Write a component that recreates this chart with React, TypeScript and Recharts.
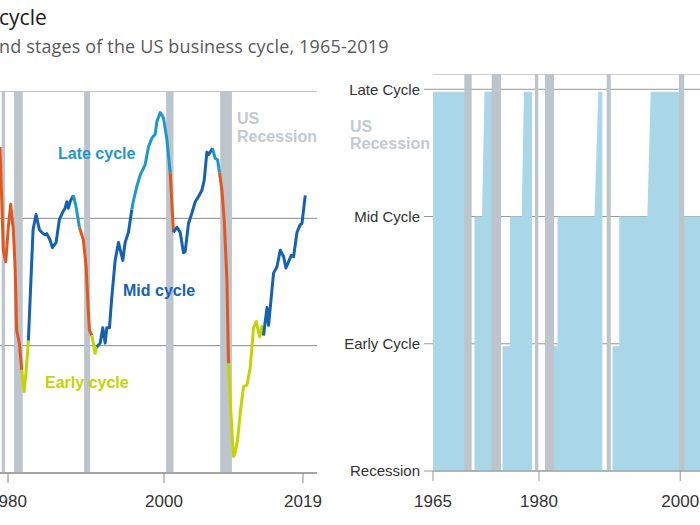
import { LineChart, Line, AreaChart, Area, XAxis, YAxis, CartesianGrid, ReferenceArea } from 'recharts'

// left panel: indicator line, coloured by business-cycle phase
const lineYears = [
  1979.76, 1980.18, 1980.49, 1980.82, 1981.12, 1981.46, 1981.68, 1981.89, 1982.23, 1982.53,
  1982.83, 1983.08, 1983.38, 1983.98, 1984.36, 1984.79, 1985.09, 1985.51, 1985.73, 1986.15,
  1986.45, 1986.92, 1987.34, 1987.78, 1988.07, 1988.29, 1988.49, 1988.71, 1989.13, 1989.48,
  1989.9, 1990.41, 1990.76, 1991.05, 1991.18, 1991.49, 1991.91, 1992.13, 1992.55, 1992.89,
  1993.19, 1993.4, 1993.74, 1994.04, 1994.47, 1994.89, 1995.45, 1995.74, 1996.17, 1996.6,
  1996.81, 1997.24, 1997.66, 1998.3, 1998.72, 1999.16, 1999.58, 1999.8, 2000.22, 2000.64,
  2001.08, 2001.5, 2001.92, 2002.36, 2002.78, 2003.2, 2003.42, 2003.84, 2004.27, 2004.7,
  2005.12, 2005.55, 2005.85, 2006.19, 2006.4, 2006.61, 2006.91, 2007.25, 2007.55, 2007.8,
  2008.11, 2008.4, 2008.75, 2008.95, 2009.26, 2009.59, 2009.81, 2010.11, 2010.45, 2010.87,
  2011.31, 2011.73, 2012.15, 2012.5, 2012.92, 2013.23, 2013.43, 2013.87, 2014.07, 2014.38,
  2014.71, 2015.14, 2015.57, 2015.99, 2016.29, 2016.63, 2016.97, 2017.27, 2017.7, 2018.12,
  2018.34, 2018.76,
]
const lineValues = [
  2.56, 1.75, 1.66, 1.93, 2.11, 1.91, 1.62, 1.12, 1.02, 0.81,
  0.64, 0.79, 1.04, 1.91, 2.03, 1.91, 1.89, 1.87, 1.88, 1.83,
  1.77, 1.81, 1.99, 2.05, 2.08, 2.13, 2.08, 2.13, 2.18, 2.09,
  1.93, 1.83, 1.62, 1.26, 1.12, 1.08, 0.94, 0.99, 1.02, 1.14,
  1.02, 1.14, 1.14, 1.38, 1.67, 1.81, 1.67, 1.81, 1.89, 2.07,
  2.14, 2.25, 2.34, 2.42, 2.56, 2.63, 2.66, 2.76, 2.83, 2.79,
  2.62, 2.36, 1.89, 1.93, 1.89, 1.73, 1.74, 1.96, 2.04, 2.13,
  2.17, 2.22, 2.3, 2.52, 2.5, 2.52, 2.55, 2.47, 2.46, 2.36,
  2.22, 1.99, 1.52, 0.86, 0.47, 0.13, 0.16, 0.26, 0.47, 0.68,
  0.69, 0.83, 1.14, 1.19, 1.07, 1.15, 1.08, 1.3, 1.16, 1.36,
  1.57, 1.62, 1.75, 1.7, 1.61, 1.66, 1.71, 1.7, 1.89, 1.95,
  1.96, 2.18,
]
// phase of the segment that starts at each point: R recession, E early, M mid, L late
const linePhases = (
  'RRRRRRRRRE' + 'EEMMMMMMMM' + 'MMMMMMMMLL' + 'RRRRREEMMM' + 'MMMMMMMMML' +
  'LLLLLLLLLL' + 'LRMMMMMMMM' + 'MMMMMMLLLR' + 'RRREEEEEEE' + 'EEEEEEMMMM' +
  'MMMMMMMMMM' + 'MM'
).split('')

const leftRecessions = [
  [1979.97, 1980.4], [1981.55, 1982.66], [1990.5, 1991.27], [2000.98, 2001.92], [2007.89, 2009.39],
]
const leftTickYears = [1980.78, 2000.71, 2018.47]
const leftTickLabels = ['1980', '2000', '2019']

// right panel: stage of the cycle
const stageLabels = ['Recession', 'Early Cycle', 'Mid Cycle', 'Late Cycle']
const stageYears = [
  1965.0, 1970.17, 1970.17, 1970.87, 1970.87, 1971.94, 1972.29, 1973.85, 1973.85, 1974.84,
  1974.84, 1975.9, 1975.9, 1977.56, 1977.88, 1979.01, 1979.01, 1982.06, 1982.06, 1982.62,
  1982.62, 1987.86, 1988.4, 1988.97, 1988.97, 1990.41, 1990.41, 1991.37, 1991.37, 1995.34,
  1995.82, 2000.2, 2000.2, 2003.1,
]
const stageValues = [
  2.98, 2.98, 0, 0, 2.0, 2.0, 2.98, 2.98, 0, 0,
  0.98, 0.98, 2.0, 2.0, 2.98, 2.98, 0, 0, 0.98, 0.98,
  2.0, 2.0, 2.98, 2.98, 0, 0, 0.98, 0.98, 2.0, 2.0,
  2.98, 2.98, 2.0, 2.0,
]
const rightRecessions = [
  [1969.43, 1970.48], [1973.31, 1974.63], [1979.44, 1979.91], [1980.85, 1982.13], [1989.59, 1990.16], [1999.82, 2000.57],
]
const rightTickYears = [1965, 1980, 2000]

const phaseColors: Record<string, string> = { R: '#e2571e', E: '#c3d400', M: '#1562b0', L: '#1d98cb' }
const phases = Object.keys(phaseColors)

const lineData = lineYears.map((year, i) => {
  const row: Record<string, number | null> = { year }
  for (const p of phases) {
    const on = linePhases[i] === p || (i > 0 && linePhases[i - 1] === p)
    row[p] = on ? lineValues[i] : null
  }
  return row
})

const stageData = stageYears.map((year, i) => ({ year, stage: stageValues[i] }))

const sans = "'Liberation Sans', Arial, sans-serif"
const band = '#bdc4cb'

export default function App() {
  return (
    <div style={{ position: 'fixed', left: 0, top: 0, width: 700, height: 525, overflow: 'hidden', background: '#fff' }}>
      <div style={{ position: 'absolute', left: -2, top: 91 }}>
        <LineChart width={345} height={422} data={lineData} margin={{ top: 0, right: 26, bottom: 0, left: 0 }}>
          <CartesianGrid vertical={false} stroke="#888" />
          <XAxis
            dataKey="year"
            type="number"
            domain={[1979.5, 2020.26]}
            allowDataOverflow
            ticks={leftTickYears}
            interval={0}
            tickFormatter={(v: number) => leftTickLabels[leftTickYears.indexOf(v)]}
            height={40}
            tickSize={10}
            tickMargin={12}
            axisLine={{ stroke: '#888' }}
            tickLine={{ stroke: '#888' }}
            tick={{ fontSize: 17, fill: '#333', fontFamily: sans }}
          />
          <YAxis hide domain={[0, 3]} ticks={[0, 1, 2, 3]} />
          {leftRecessions.map(([a, b]) => (
            <ReferenceArea key={a} x1={a} x2={b} fill={band} fillOpacity={1} stroke="none" />
          ))}
          {phases.map(p => (
            <Line
              key={p}
              dataKey={p}
              type="linear"
              stroke={phaseColors[p]}
              strokeWidth={3}
              strokeLinejoin="round"
              dot={false}
              activeDot={false}
              connectNulls={false}
              isAnimationActive={false}
            />
          ))}
        </LineChart>
      </div>

      <div style={{ position: 'absolute', left: 333, top: 74 }}>
        <AreaChart width={485} height={437} data={stageData} margin={{ top: 0, right: 0, bottom: 0, left: 0 }}>
          <CartesianGrid vertical={false} stroke="#999" />
          <XAxis
            dataKey="year"
            type="number"
            domain={[1965, 2019.5]}
            allowDataOverflow
            ticks={rightTickYears}
            interval={0}
            height={40}
            tickSize={10}
            tickMargin={14}
            axisLine={{ stroke: '#999' }}
            tickLine={{ stroke: '#999' }}
            tick={{ fontSize: 17, fill: '#333', fontFamily: sans }}
          />
          <YAxis
            type="number"
            domain={[0, 3.12]}
            allowDataOverflow
            ticks={[0, 1, 2, 3]}
            interval={0}
            tickFormatter={(v: number) => stageLabels[v]}
            width={100}
            axisLine={false}
            tickSize={9}
            tickMargin={4}
            tickLine={{ stroke: '#999' }}
            tick={{ fontSize: 15, fill: '#333', fontFamily: sans, verticalAnchor: 'end' }}
          />
          <Area
            dataKey="stage"
            type="linear"
            fill="#a9d7e7"
            fillOpacity={1}
            stroke="none"
            activeDot={false}
            isAnimationActive={false}
          />
          {rightRecessions.map(([a, b]) => (
            <ReferenceArea key={a} x1={a} x2={b} fill={band} fillOpacity={1} stroke="none" zIndex={150} />
          ))}
        </AreaChart>
      </div>

      <svg width={700} height={525} style={{ position: 'absolute', left: 0, top: 0, pointerEvents: 'none' }}>
        <text x={-1} y={24.5} fontFamily="'Open Sans', sans-serif" fontSize={21} fill="#1a1a1a">cycle</text>
        <text x={-1} y={52.5} fontFamily="'Open Sans', sans-serif" fontSize={18} letterSpacing={0.15} fill="#595959">
          nd stages of the US business cycle, 1965-2019
        </text>
        <g fontFamily={sans} fontWeight="bold" fontSize={16}>
          <text x={58} y={159} fill={phaseColors.L}>Late cycle</text>
          <text x={123} y={296} fill={phaseColors.M}>Mid cycle</text>
          <text x={45} y={388} fill={phaseColors.E}>Early cycle</text>
          <text x={237} y={124} fill="#c3c9cf">US</text>
          <text x={237} y={141.5} fill="#c3c9cf">Recession</text>
          <text x={350} y={131.5} fill="#c3c9cf">US</text>
          <text x={350} y={149} fill="#c3c9cf">Recession</text>
        </g>
      </svg>
    </div>
  )
}
